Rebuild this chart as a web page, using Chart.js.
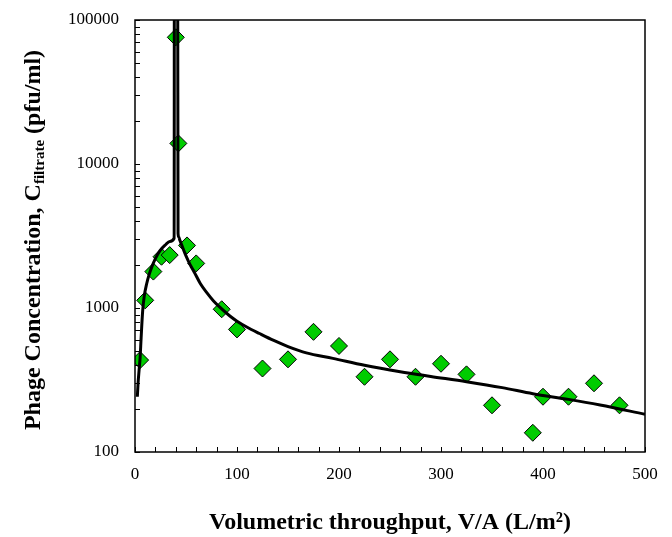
<!DOCTYPE html>
<html>
<head>
<meta charset="utf-8">
<script src="https://cdn.jsdelivr.net/npm/chart.js@4/dist/chart.umd.min.js"></script>
<style>
  html, body { margin: 0; padding: 0; background: #fff; }
  #wrap { width: 672px; height: 537px; position: relative; }
</style>
</head>
<body>
<div id="wrap"><canvas id="phageChart"></canvas></div>
<script>
// measured filtrate concentrations
var sampleX = [5, 10, 18, 26, 34, 40, 42.5, 51, 60, 85, 100, 125, 150, 175, 200, 225, 250, 275, 300, 325, 350, 390, 400, 425, 450, 475];
var sampleY = [435, 1130, 1790, 2270, 2330, 75800, 13900, 2720, 2040, 980, 710, 380, 440, 683, 545, 333, 440, 333, 410, 346, 211, 136, 242, 242, 300, 211];

// model curve (spike runs off the top of the axis)
var modelX = [2.3, 3, 4, 5, 6, 7.5, 9, 11.5, 14, 16.5, 20, 24.5, 30, 34, 38.4, 38.6, 41.8, 42.2, 43, 44, 47, 50, 54, 58, 64, 70, 77, 85, 93, 100, 110, 122, 136, 150, 168, 194, 225, 260, 290, 325, 360, 390, 425, 456, 500];
var modelY = [242, 300, 370, 450, 620, 950, 1200, 1480, 1720, 1930, 2200, 2500, 2750, 2900, 3050, 300000, 300000, 3300, 3100, 2950, 2600, 2300, 2000, 1780, 1480, 1290, 1120, 985, 880, 810, 735, 665, 595, 540, 488, 447, 400, 361, 335, 308, 280, 254, 232, 212, 183];

var xTicks = [0, 20, 40, 60, 80, 100, 120, 140, 160, 180, 200, 220, 240, 260, 280, 300, 320, 340, 360, 380, 400, 420, 440, 460, 480, 500];
var yTicks = [100, 200, 300, 400, 500, 600, 700, 800, 900,
              1000, 2000, 3000, 4000, 5000, 6000, 7000, 8000, 9000,
              10000, 20000, 30000, 40000, 50000, 60000, 70000, 80000, 90000, 100000];

var serif = "'Liberation Serif', 'Times New Roman', serif";

function toPoints(xs, ys) {
  var out = [];
  for (let i = 0; i < xs.length; i++) out.push({x: xs[i], y: ys[i]});
  return out;
}

// frame, inward ticks and the axis titles
var framePlugin = {
  id: 'frame',
  afterDraw(chart) {
    var c = chart.ctx, a = chart.chartArea;
    var xs = chart.scales.x, ys = chart.scales.y;
    c.save();
    c.strokeStyle = '#000';
    c.lineWidth = 1.5;
    c.strokeRect(a.left, a.top, a.right - a.left, a.bottom - a.top);
    c.beginPath();
    xTicks.forEach(function (v) {
      var px = Math.round(xs.getPixelForValue(v)) + 0.5;
      c.moveTo(px, a.bottom);
      c.lineTo(px, a.bottom - 5);
    });
    yTicks.forEach(function (v) {
      var py = Math.round(ys.getPixelForValue(v)) + 0.5;
      c.moveTo(a.left, py);
      c.lineTo(a.left + 5, py);
    });
    c.lineWidth = 1;
    c.stroke();

    c.fillStyle = '#000';
    c.font = 'bold 24px ' + serif;
    c.textAlign = 'center';
    c.textBaseline = 'middle';
    c.fillText('Volumetric throughput, V/A (L/m\u00B2)', (a.left + a.right) / 2, 523);

    // y title with subscript
    c.translate(32, 240);
    c.rotate(-Math.PI / 2);
    var p1 = 'Phage Concentration, C', sub = 'filtrate', p2 = ' (pfu/ml)';
    c.font = 'bold 24px ' + serif;
    var w1 = c.measureText(p1).width, w3 = c.measureText(p2).width;
    c.font = 'bold 15px ' + serif;
    var w2 = c.measureText(sub).width;
    var x0 = -(w1 + w2 + w3) / 2;
    c.textAlign = 'left';
    c.textBaseline = 'alphabetic';
    c.font = 'bold 24px ' + serif;
    c.fillText(p1, x0, 8);
    c.font = 'bold 15px ' + serif;
    c.fillText(sub, x0 + w1, 12);
    c.font = 'bold 24px ' + serif;
    c.fillText(p2, x0 + w1 + w2, 8);
    c.restore();
  }
};

const ctx = document.getElementById('phageChart').getContext('2d');
const phageChart = new Chart(ctx, {
  type: 'scatter',
  data: {
    datasets: [{
      label: 'Model',
      data: toPoints(modelX, modelY),
      showLine: true,
      borderColor: '#000',
      borderWidth: 3,
      pointRadius: 0,
      cubicInterpolationMode: 'monotone',
      clip: 0
    }, {
      label: 'Data',
      data: toPoints(sampleX, sampleY),
      pointStyle: 'rectRot',
      pointRadius: 8.5,
      pointBackgroundColor: '#00cc00',
      pointBorderColor: '#000',
      pointBorderWidth: 1
    }]
  },
  plugins: [framePlugin],
  options: {
    responsive: true,
    maintainAspectRatio: false,
    animation: false,
    layout: { padding: { left: 0, right: 27, top: 20, bottom: 0 } },
    plugins: {
      legend: { display: false },
      tooltip: { enabled: false }
    },
    scales: {
      x: {
        type: 'linear',
        min: 0,
        max: 500,
        afterBuildTicks: function (s) { s.ticks = xTicks.map(v => ({value: v})); },
        afterFit: function (s) { s.height = 85; s.paddingLeft = 0; s.paddingRight = 0; },
        grid: { display: false, drawTicks: false },
        border: { display: false },
        ticks: {
          padding: 12,
          color: '#000',
          maxRotation: 0,
          autoSkip: false,
          font: { family: serif, size: 17 },
          callback: function (v) { return v % 100 === 0 ? String(v) : ''; }
        }
      },
      y: {
        type: 'logarithmic',
        min: 100,
        max: 100000,
        afterBuildTicks: function (s) { s.ticks = yTicks.map(v => ({value: v})); },
        afterFit: function (s) { s.width = 135; s.paddingTop = 0; s.paddingBottom = 0; },
        grid: { display: false, drawTicks: false },
        border: { display: false },
        ticks: {
          padding: 16,
          color: '#000',
          autoSkip: false,
          font: { family: serif, size: 17 },
          callback: function (v) {
            var e = Math.log10(v);
            return Math.abs(e - Math.round(e)) < 1e-9 ? String(v) : '';
          }
        }
      }
    }
  }
});
</script>
</body>
</html>
